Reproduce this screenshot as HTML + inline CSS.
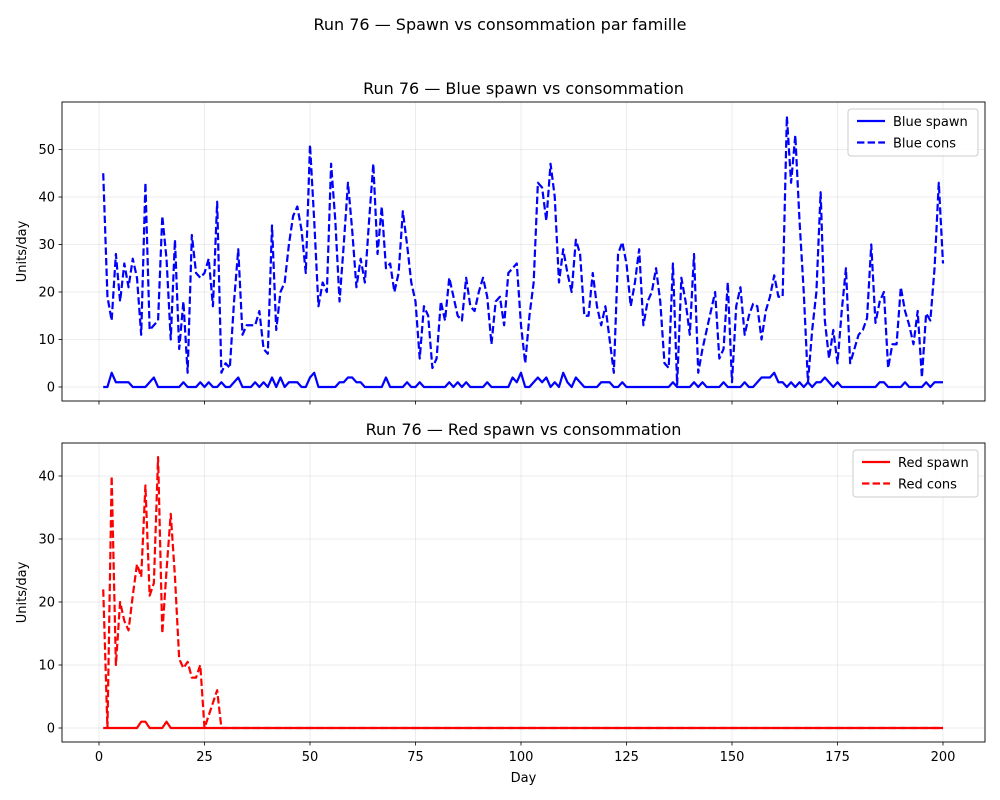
<!DOCTYPE html>
<html><head><meta charset="utf-8"><style>
body{margin:0;background:#fff}
svg{display:block;font-family:"DejaVu Sans","Liberation Sans",sans-serif}
</style></head><body>
<svg id="fig" width="1000" height="800" viewBox="0 0 1000 800" xmlns="http://www.w3.org/2000/svg">
<rect width="1000" height="800" fill="#fff"/>
<text x="500" y="30" text-anchor="middle" font-size="16">Run 76 — Spawn vs consommation par famille</text>
</svg>
<script>
const days = [];
for (let d = 1; d <= 200; d++) days.push(d);
const blueCons = [45,19,14,28,18,26,21,27,23,11,43,12,13,14,36,27,10,31,8,18,3,32,24,23,24,27,17,39,3,5,4,18,29,11,13,13,13,16,8,7,34,12,20,22,30,36,38,33,24,51,35,17,22,20,47,35,18,30,43,33,21,27,22,35,47,28,38,25,26,20,24,37,30,22,18,6,17,15,4,6,18,14,23,19,15,14,23,17,16,20,23,19,9,18,19,13,24,25,26,13,5,15,22,43,42,35,47,40,22,29,24,20,31,28,15,15,24,17,13,17,10,3,28,30.5,26,17,22,29,13,18,20,25,18,5,4,26,0.5,23,18,11,28,3,8,12,16,20,6,8,22,1,17,21,11,15,17.5,17,10,16,19,23.5,19,19,57,43,53,35,20,1,12,20,41,14,6,12,5,16,25,5,8,11,12,14.5,30,13.5,18,20,4,9,9,21,16,13,9,16,2,15.5,14,25,43,26];
const blueSpawn = [0,0,3,1,1,1,1,0,0,0,0,1,2,0,0,0,0,0,0,1,0,0,0,1,0,1,0,0,1,0,0,1,2,0,0,0,1,0,1,0,2,0,2,0,1,1,1,0,0,2,3,0,0,0,0,0,1,1,2,2,1,1,0,0,0,0,0,2,0,0,0,0,1,0,0,1,0,0,0,0,0,0,1,0,1,0,1,0,0,0,0,1,0,0,0,0,0,2,1,3,0,0,1,2,1,2,0,1,0,3,1,0,2,1,0,0,0,0,1,1,1,0,0,1,0,0,0,0,0,0,0,0,0,0,0,1,0,0,0,0,1,0,1,0,0,0,0,1,0,0,0,0,1,0,0,1,2,2,2,3,1,1,0,1,0,1,0,1,0,1,1,2,1,0,1,0,0,0,0,0,0,0,0,0,1,1,0,0,0,0,1,0,0,0,0,1,0,1,1,1];
const redCons = [22,0,40,10,20,17,15.5,21,26,24,38.5,21,23,43,15,25,34,24,11,9.5,10.5,8,8,10,0,2,4,6,0,0,0,0,0,0,0,0,0,0,0,0,0,0,0,0,0,0,0,0,0,0,0,0,0,0,0,0,0,0,0,0,0,0,0,0,0,0,0,0,0,0,0,0,0,0,0,0,0,0,0,0,0,0,0,0,0,0,0,0,0,0,0,0,0,0,0,0,0,0,0,0,0,0,0,0,0,0,0,0,0,0,0,0,0,0,0,0,0,0,0,0,0,0,0,0,0,0,0,0,0,0,0,0,0,0,0,0,0,0,0,0,0,0,0,0,0,0,0,0,0,0,0,0,0,0,0,0,0,0,0,0,0,0,0,0,0,0,0,0,0,0,0,0,0,0,0,0,0,0,0,0,0,0,0,0,0,0,0,0,0,0,0,0,0,0,0,0,0,0,0,0,0,0,0,0,0,0,0,0];
const redSpawn = [0,0,0,0,0,0,0,0,0,1,1,0,0,0,0,1,0,0,0,0,0,0,0,0,0,0,0,0,0,0,0,0,0,0,0,0,0,0,0,0,0,0,0,0,0,0,0,0,0,0,0,0,0,0,0,0,0,0,0,0,0,0,0,0,0,0,0,0,0,0,0,0,0,0,0,0,0,0,0,0,0,0,0,0,0,0,0,0,0,0,0,0,0,0,0,0,0,0,0,0,0,0,0,0,0,0,0,0,0,0,0,0,0,0,0,0,0,0,0,0,0,0,0,0,0,0,0,0,0,0,0,0,0,0,0,0,0,0,0,0,0,0,0,0,0,0,0,0,0,0,0,0,0,0,0,0,0,0,0,0,0,0,0,0,0,0,0,0,0,0,0,0,0,0,0,0,0,0,0,0,0,0,0,0,0,0,0,0,0,0,0,0,0,0,0,0,0,0,0,0];
const xTicks = [0,25,50,75,100,125,150,175,200];
const blueYTicks = [0,10,20,30,40,50];
const redYTicks = [0,10,20,30,40];

const NS = 'http://www.w3.org/2000/svg';
const svg = document.getElementById('fig');
function mk(tag, attrs, parent) {
  const e = document.createElementNS(NS, tag);
  for (const k in attrs) e.setAttribute(k, attrs[k]);
  (parent || svg).appendChild(e);
  return e;
}
const L = 62, R = 985;
const xs = d => 99 + (d - 0) * (943 - 99) / 200;

function panel(cfg) {
  const ys = v => cfg.y0 - v * cfg.k;
  const g = mk('g', {});
  
  
  xTicks.forEach(t => {
    const l = mk('line', {x1: xs(t), x2: xs(t), y1: cfg.top, y2: cfg.bot, stroke: '#b0b0b0', 'stroke-opacity': 0.3, 'stroke-width': 0.8}, g);
    
    
    const tk = mk('line', {x1: xs(t), x2: xs(t), y1: cfg.bot, y2: cfg.bot + 3.5, stroke: '#000', 'stroke-width': 0.8}, g);
    
    
    if (cfg.xlabels) {
      const tx = mk('text', {x: xs(t), y: cfg.bot + 19, 'text-anchor': 'middle', 'font-size': 13}, g);
      tx.textContent = t;
      
      
    }
  });
  cfg.yTicks.forEach(t => {
    const l = mk('line', {x1: L, x2: R, y1: ys(t), y2: ys(t), stroke: '#b0b0b0', 'stroke-opacity': 0.3, 'stroke-width': 0.8}, g);
    
    
    const tk = mk('line', {x1: L - 3.5, x2: L, y1: ys(t), y2: ys(t), stroke: '#000', 'stroke-width': 0.8}, g);
    
    
    const tx = mk('text', {x: L - 7, y: ys(t) + 4.5, 'text-anchor': 'end', 'font-size': 13}, g);
    tx.textContent = t;
    
    
  });
  const pts = arr => arr.map((v, i) => xs(days[i]).toFixed(2) + ',' + ys(v).toFixed(2)).join(' ');
  const s = mk('polyline', {points: pts(cfg.spawn), fill: 'none', stroke: cfg.color, 'stroke-width': 2.2, 'stroke-linejoin': 'round'}, g);
  
  
  const c = mk('polyline', {points: pts(cfg.cons), fill: 'none', stroke: cfg.color, 'stroke-width': 2.2, 'stroke-dasharray': '7.4 3.2', 'stroke-linejoin': 'round'}, g);
  
  
  const fr = mk('rect', {x: L, y: cfg.top, width: R - L, height: cfg.bot - cfg.top, fill: 'none', stroke: '#000', 'stroke-width': 0.9}, g);
  
  
  const ti = mk('text', {x: (L + R) / 2, y: cfg.top - 8, 'text-anchor': 'middle', 'font-size': 16}, g);
  ti.textContent = cfg.title;
  
  
  const yl = mk('text', {x: 0, y: 0, 'text-anchor': 'middle', 'font-size': 13, transform: `translate(26,${(cfg.top + cfg.bot) / 2}) rotate(-90)`}, g);
  yl.textContent = 'Units/day';
  
  
  const lg = mk('g', {}, g);
  
  
  mk('rect', {x: cfg.lx, y: cfg.top + 7, width: R - 7 - cfg.lx, height: 47, rx: 3, fill: '#fff', 'fill-opacity': 0.8, stroke: '#ccc'}, lg);
  [['spawn', null], ['cons', '7.4 3.2']].forEach((e, i) => {
    const yy = cfg.top + 19 + i * 21.5;
    const ln = mk('line', {x1: cfg.lx + 9, x2: cfg.lx + 37, y1: yy, y2: yy, stroke: cfg.color, 'stroke-width': 2.2}, lg);
    if (e[1]) ln.setAttribute('stroke-dasharray', e[1]);
    
    
    const t = mk('text', {x: cfg.lx + 45, y: yy + 5, 'font-size': 13}, lg);
    t.textContent = cfg.label + ' ' + e[0];
    
    
  });
}
panel({name: 'blue-panel', key: 'blue', top: 102, bot: 401, y0: 387, k: 4.75, yTicks: blueYTicks, spawn: blueSpawn, cons: blueCons, color: '#0000ff', title: 'Run 76 — Blue spawn vs consommation', label: 'Blue', lx: 848, xlabels: false});
panel({name: 'red-panel', key: 'red', top: 443, bot: 742, y0: 728, k: 6.3, yTicks: redYTicks, spawn: redSpawn, cons: redCons, color: '#ff0000', title: 'Run 76 — Red spawn vs consommation', label: 'Red', lx: 853, xlabels: true});
const xl = mk('text', {x: (L + R) / 2, y: 782, 'text-anchor': 'middle', 'font-size': 13});
xl.textContent = 'Day';


</script>
</body></html>
